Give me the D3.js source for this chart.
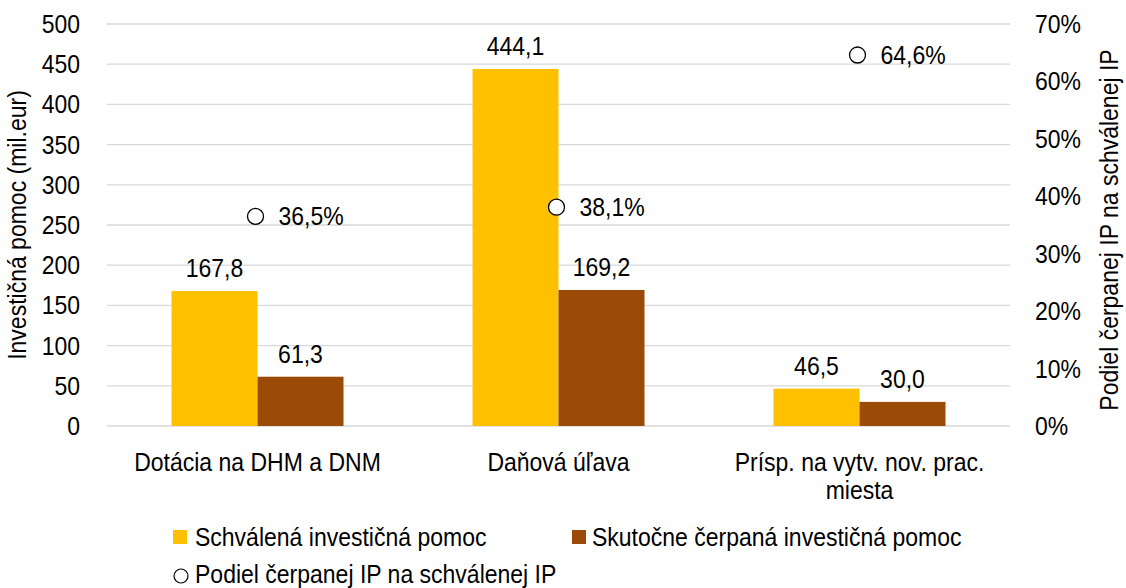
<!DOCTYPE html>
<html><head><meta charset="utf-8">
<script src="https://cdn.jsdelivr.net/npm/d3@7"></script>
<style>
body{margin:0;background:#fff;}
svg text{font-family:"Liberation Sans Narrow","Arial Narrow","Liberation Sans",Arial,sans-serif;fill:#000;}
</style></head><body>
<svg id="c" width="1126" height="588"></svg>
<script>
const categories = [["Dotácia na DHM a DNM"], ["Daňová úľava"], ["Prísp. na vytv. nov. prac.", "miesta"]];
const approved = [167.8, 444.1, 46.5];
const used = [61.3, 169.2, 30.0];
const share = [36.5, 38.1, 64.6];
const leftTicks = [0,50,100,150,200,250,300,350,400,450,500];
const rightTicks = [0,10,20,30,40,50,60,70];
const seriesNames = ["Schválená investičná pomoc","Skutočne čerpaná investičná pomoc","Podiel čerpanej IP na schválenej IP"];
const colors = ["#FFC000","#9C4A08"];

const svg = d3.select("#c");
const L = 107, R = 1010, T = 24, B = 426;
const FS = 25, SX = 0.92;
const fmt = v => v.toFixed(1).replace(".", ",");
const x = d3.scaleBand().domain(d3.range(categories.length)).range([L,R]);
const y = d3.scaleLinear().domain([0,500]).range([B,T]);
const y2 = d3.scaleLinear().domain([0,70]).range([B,T]);
const barW = 86;

function txt(parent, px, py, s, anchor, rot){
  const g = parent.append("g").attr("transform",`translate(${px},${py})${rot?` rotate(${rot})`:""} scale(${SX},1)`);
  g.append("text").attr("x",0).attr("y",0).attr("text-anchor",anchor||"start").attr("font-size",FS).text(s);
  return g;
}

// gridlines
svg.append("g").selectAll("line").data(leftTicks).join("line")
  .attr("x1",L).attr("x2",R).attr("y1",d=>y(d)).attr("y2",d=>y(d))
  .attr("stroke","#d9d9d9").attr("stroke-width",1.3);

// axes tick labels (via scales)
const axL = svg.append("g");
leftTicks.forEach(t=>txt(axL, L-27, y(t)+9, y.tickFormat()(t), "end"));
const axR = svg.append("g");
rightTicks.forEach(t=>txt(axR, R+25, y2(t)+9, t+"%", "start"));

// bars
const g = svg.append("g");
categories.forEach((c,i)=>{
  const cx = x(i)+x.bandwidth()/2;
  [approved[i], used[i]].forEach((v,j)=>{
    const x0 = cx + (j===0 ? -barW : 0);
    g.append("rect").attr("x",x0).attr("y",y(v)).attr("width",barW).attr("height",B-y(v)).attr("fill",colors[j]);
    txt(g, x0+barW/2, y(v)-14, fmt(v), "middle");
  });
  g.append("circle").attr("cx",cx-2).attr("cy",y2(share[i])).attr("r",8).attr("fill","#fff").attr("stroke","#000").attr("stroke-width",1.3);
  txt(g, cx+21, y2(share[i])+9, fmt(share[i])+"%", "start");
  c.forEach((line,k)=>txt(g, cx, 471+k*28, line, "middle"));
});

// axis titles
txt(svg, 26, 225, "Investičná  pomoc (mil.eur)", "middle", -90);
txt(svg, 1118, 230, "Podiel čerpanej  IP  na schválenej  IP", "middle", -90);

// legend
const leg = svg.append("g");
leg.append("rect").attr("x",173).attr("y",530).attr("width",14).attr("height",14).attr("fill",colors[0]);
txt(leg, 195, 546, seriesNames[0]);
leg.append("rect").attr("x",572).attr("y",530).attr("width",14).attr("height",14).attr("fill",colors[1]);
txt(leg, 592, 546, seriesNames[1]);
leg.append("circle").attr("cx",181).attr("cy",576).attr("r",7).attr("fill","#fff").attr("stroke","#000").attr("stroke-width",1.2);
txt(leg, 195, 583, seriesNames[2]);
</script></body></html>
